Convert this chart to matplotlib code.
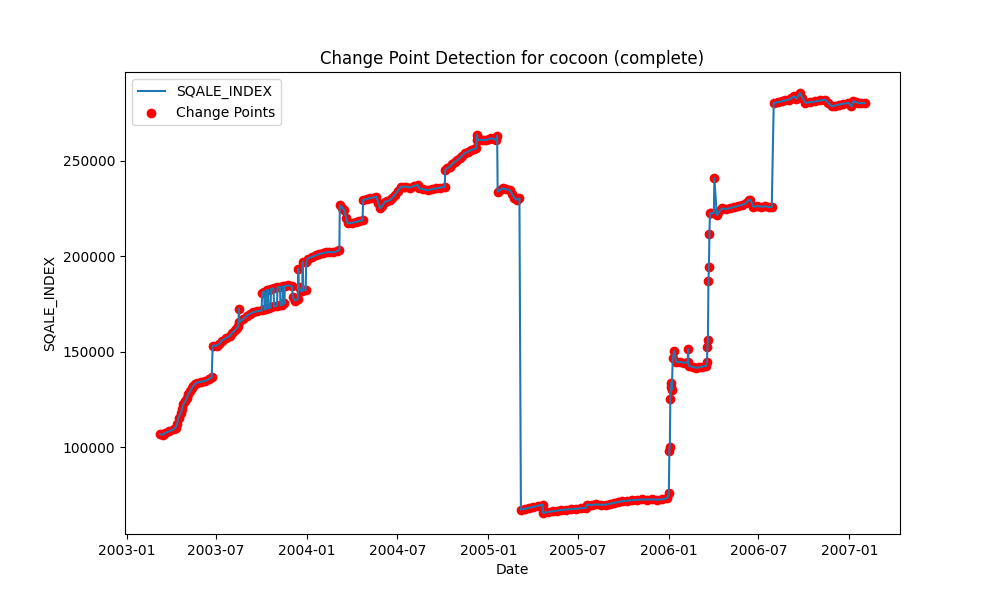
import pandas as pd
import matplotlib
matplotlib.use('Agg')
import matplotlib.pyplot as plt

dates = [
    '2003-03-10', '2003-03-15', '2003-03-20', '2003-03-28', '2003-04-06', '2003-04-10',
    '2003-04-13', '2003-04-16', '2003-04-20', '2003-04-23', '2003-04-26', '2003-04-30',
    '2003-05-03', '2003-05-06', '2003-05-10', '2003-05-13', '2003-05-16', '2003-05-20',
    '2003-05-23', '2003-05-31', '2003-06-09', '2003-06-16', '2003-06-22', '2003-06-24',
    '2003-07-02', '2003-07-07', '2003-07-12', '2003-07-20', '2003-07-29', '2003-08-03',
    '2003-08-08', '2003-08-12', '2003-08-15', '2003-08-16', '2003-08-17', '2003-08-25',
    '2003-09-01', '2003-09-07', '2003-09-14', '2003-09-22', '2003-10-01',
    # comb of jumps in oct/nov 2003
    '2003-10-02', '2003-10-06', '2003-10-07', '2003-10-10', '2003-10-11', '2003-10-14',
    '2003-10-15', '2003-10-19', '2003-10-20', '2003-10-25', '2003-10-26', '2003-11-01',
    '2003-11-02', '2003-11-07', '2003-11-08', '2003-11-12', '2003-11-13', '2003-11-16',
    '2003-11-17', '2003-11-24', '2003-12-01', '2003-12-03', '2003-12-07', '2003-12-13',
    '2003-12-14', '2003-12-15', '2003-12-20', '2003-12-22', '2003-12-23', '2003-12-24',
    '2003-12-29', '2003-12-30',
    '2004-01-02', '2004-01-10', '2004-01-19', '2004-01-25', '2004-02-01', '2004-02-08',
    '2004-02-15', '2004-02-23', '2004-03-01', '2004-03-06', '2004-03-07', '2004-03-12',
    '2004-03-16', '2004-03-20', '2004-03-23', '2004-03-31', '2004-04-09', '2004-04-15',
    '2004-04-22', '2004-04-23', '2004-04-30', '2004-05-06', '2004-05-13', '2004-05-20',
    '2004-05-24', '2004-05-27', '2004-06-01', '2004-06-06', '2004-06-11', '2004-06-16',
    '2004-06-21', '2004-06-26', '2004-07-02', '2004-07-09', '2004-07-14', '2004-07-19',
    '2004-07-27', '2004-08-04', '2004-08-11', '2004-08-15', '2004-08-23', '2004-09-01',
    '2004-09-09', '2004-09-18', '2004-09-26', '2004-10-05', '2004-10-06', '2004-10-10',
    '2004-10-15', '2004-10-20', '2004-10-25', '2004-10-30', '2004-11-04', '2004-11-09',
    '2004-11-14', '2004-11-21', '2004-11-28', '2004-12-03', '2004-12-08', '2004-12-09',
    '2004-12-10', '2004-12-15', '2004-12-21', '2004-12-28', '2005-01-02', '2005-01-07',
    '2005-01-12', '2005-01-17', '2005-01-19', '2005-01-20', '2005-01-25', '2005-01-30',
    '2005-02-06', '2005-02-13', '2005-02-18', '2005-02-23', '2005-02-28', '2005-03-05',
    '2005-03-08', '2005-03-16', '2005-03-25', '2005-04-02', '2005-04-11', '2005-04-21',
    '2005-04-22', '2005-05-01', '2005-05-11', '2005-05-20', '2005-05-29', '2005-06-07',
    '2005-06-17', '2005-06-27', '2005-07-07', '2005-07-17', '2005-07-20', '2005-07-29',
    '2005-08-07', '2005-08-17', '2005-08-26', '2005-09-04', '2005-09-12', '2005-09-21',
    '2005-09-29', '2005-10-09', '2005-10-19', '2005-10-29', '2005-11-08', '2005-11-18',
    '2005-11-28', '2005-12-08', '2005-12-18', '2005-12-29', '2006-01-01', '2006-01-02',
    '2006-01-03', '2006-01-04', '2006-01-05', '2006-01-06', '2006-01-07', '2006-01-09',
    '2006-01-12', '2006-01-16', '2006-01-24', '2006-02-01', '2006-02-08', '2006-02-09',
    '2006-02-10', '2006-02-18', '2006-02-25', '2006-03-03', '2006-03-10', '2006-03-18',
    '2006-03-19', '2006-03-20', '2006-03-21', '2006-03-22', '2006-03-23', '2006-03-24',
    '2006-03-25', '2006-03-28', '2006-04-02', '2006-04-03', '2006-04-08', '2006-04-13',
    '2006-04-18', '2006-04-26', '2006-05-04', '2006-05-12', '2006-05-20', '2006-05-28',
    '2006-06-05', '2006-06-11', '2006-06-15', '2006-06-21', '2006-06-29', '2006-07-07',
    '2006-07-15', '2006-07-22', '2006-07-28', '2006-08-01', '2006-08-09', '2006-08-17',
    '2006-08-24', '2006-08-31', '2006-09-05', '2006-09-11', '2006-09-16', '2006-09-23',
    '2006-09-28', '2006-10-04', '2006-10-14', '2006-10-24', '2006-11-03', '2006-11-13',
    '2006-11-19', '2006-11-26', '2006-12-03', '2006-12-10', '2006-12-20', '2006-12-30',
    '2007-01-05', '2007-01-09', '2007-01-14', '2007-01-19', '2007-01-25', '2007-02-01',
]

sqale = [
    106700, 106400, 107500, 108200, 109300, 110200,
    111900, 115400, 117600, 119800, 122500, 124300,
    125900, 127900, 129500, 131000, 132100, 133200,
    133800, 134200, 134700, 135600, 136500, 153200,
    153200, 154100, 155800, 156900, 158400, 160000,
    161100, 162400, 163700, 172500, 165400, 167300,
    168900, 169800, 170700, 171200, 171600,
    181000, 181500, 172100, 172400, 182100, 182400,
    172800, 173200, 182900, 183200, 173700, 174000,
    183700, 184000, 174300, 174600, 184200, 175300,
    184500, 184700, 184200, 178400, 176800, 177500,
    193500, 183700, 181600, 182000, 197000, 182100,
    182300, 196800,
    198800, 199600, 200500, 201200, 201600, 202000,
    202300, 202000, 202700, 203200, 226800, 225500,
    224200, 220000, 217200, 217600, 218000, 218500,
    218900, 229500, 230000, 230400, 230800, 231200,
    228000, 225100, 226500, 228600, 229000, 229500,
    230800, 232100, 234300, 236500, 236500, 236500,
    236000, 236900, 237400, 235600, 235100, 234700,
    235100, 235600, 236000, 236500, 245300, 246200,
    247000, 248300, 249600, 250400, 251400, 252700,
    254000, 254900, 255800, 256200, 256700, 263700,
    261000, 261000, 261000, 261000, 261500, 261900,
    261400, 261000, 263200, 233800, 234700, 235600,
    235100, 234700, 232500, 230400, 229600, 230400,
    67200, 67600, 68100, 68600, 69200, 69800,
    65400, 65900, 66300, 66700, 67000, 67200,
    67400, 67700, 67900, 68100, 69800, 69600,
    69900, 69700, 69800, 70300, 70800, 71200,
    71600, 71900, 72100, 72300, 72500, 72400,
    72600, 72400, 72500, 73300, 75900, 97900,
    100000, 125300, 131200, 133800, 130000, 146800,
    150500, 144400, 144600, 144200, 144400, 151400,
    142600, 142000, 141500, 141700, 142200, 142600,
    144700, 152600, 156000, 186800, 194600, 211800,
    222600, 222500, 222800, 240900, 221600, 223500,
    225100, 224800, 225200, 225800, 226300, 226900,
    227700, 229500, 229500, 225900, 226300, 226000,
    226200, 225800, 225900, 280400, 280800, 281200,
    281700, 282100, 282900, 283800, 282600, 285600,
    283200, 280400, 280800, 281200, 281700, 282100,
    280400, 278600, 279000, 279500, 280000, 280400,
    278600, 281200, 280800, 280400, 280200, 280400,
]

df = pd.DataFrame({'date': pd.to_datetime(dates), 'SQALE_INDEX': sqale})

# every commit got flagged as a change point
change_points = df

plt.figure(figsize=(10, 6))
plt.plot(df['date'], df['SQALE_INDEX'], label='SQALE_INDEX')
plt.scatter(change_points['date'], change_points['SQALE_INDEX'], color='red', label='Change Points')
plt.title('Change Point Detection for cocoon (complete)')
plt.xlabel('Date')
plt.ylabel('SQALE_INDEX')
plt.legend()
plt.savefig('out.png')
